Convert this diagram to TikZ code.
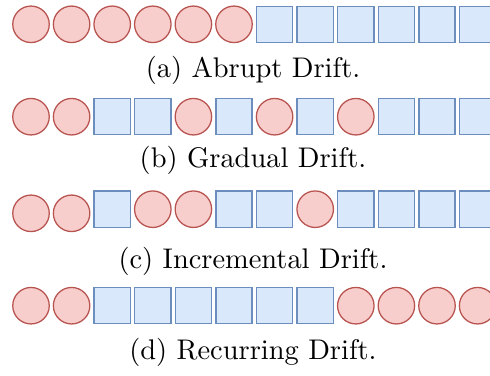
\documentclass[tikz,border=0pt]{standalone}
\usepackage{fontspec}
\begin{document}
\begin{tikzpicture}[x=0.352pt,y=-0.352pt,
  shapeC/.style={circle,draw=drawred,fill=fillred,line width=0.45pt,
    minimum size=12.85pt,inner sep=0pt},
  shapeS/.style={rectangle,draw=drawblue,fill=fillblue,line width=0.45pt,
    minimum size=12.75pt,inner sep=0pt},
  caption/.style={font=\fontsize{10pt}{12pt}\selectfont,anchor=base,inner sep=0pt}]
\definecolor{fillred}{HTML}{F8CECC}
\definecolor{drawred}{HTML}{B85450}
\definecolor{fillblue}{HTML}{DAE8FC}
\definecolor{drawblue}{HTML}{6C8EBF}
\useasboundingbox (0,0) rectangle (490,376);
\begin{scope}
\clip (0,0) rectangle (490,376);
% (a) abrupt
\foreach \t [count=\i from 0] in {C,C,C,C,C,C,S,S,S,S,S,S}
  \node[shape\t] (a\i) at ({31+40.6*\i},24.3) {};
% (b) gradual
\foreach \t [count=\i from 0] in {C,C,S,S,C,S,C,S,C,S,S,S}
  \node[shape\t] (b\i) at ({31+40.6*\i},116.7) {};
% (c) incremental
\node[shapeC] (c0) at (31,213.3) {};
\node[shapeC] (c1) at (71.6,213.3) {};
\foreach \t [count=\i from 2] in {S,C,C,S,S,C,S,S,S,S}
  \node[shape\t] (c\i) at ({31+40.6*\i},209.2) {};
% (d) recurring
\foreach \t [count=\i from 0] in {C,C,S,S,S,S,S,S,C,C,C,C}
  \node[shape\t] (d\i) at ({31+40.6*\i},305.7) {};
\end{scope}
\node[caption] (capa) at (253,77) {(a) Abrupt Drift.};
\node[caption] (capb) at (253,167.5) {(b) Gradual Drift.};
\node[caption] (capc) at (253,268) {(c) Incremental Drift.};
\node[caption] (capd) at (253,359) {(d) Recurring Drift.};
\end{tikzpicture}
\end{document}
